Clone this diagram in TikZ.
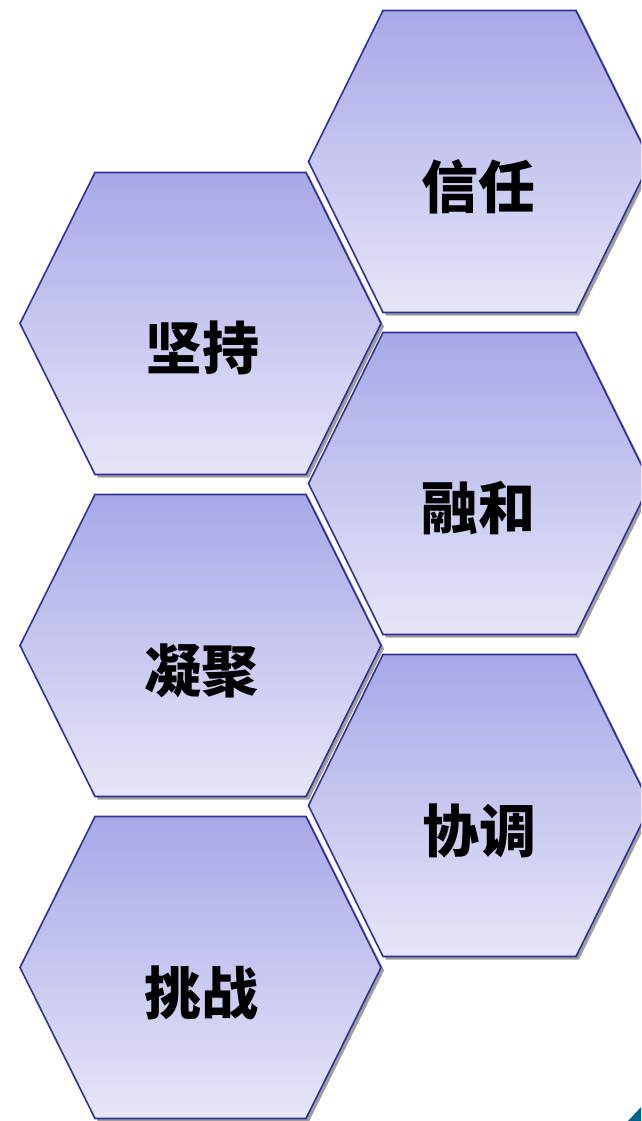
\documentclass[tikz,border=0pt]{standalone}
\usepackage{fontspec}
\newfontfamily\cjk{Noto Sans CJK SC}
\definecolor{hexTop}{RGB}{168,168,232}
\definecolor{hexBot}{RGB}{230,230,248}
\definecolor{hexLine}{RGB}{48,48,150}
\definecolor{cornerTeal}{RGB}{0,100,140}
\tikzset{
  hexface/.style={draw=hexLine, line width=1.6pt, top color=hexTop, bottom color=hexBot},
  hexshadow/.style={fill=black!38, draw=none},
  hexlabel/.style={font=\cjk\bfseries\fontsize{57}{62}\selectfont, text=black, inner sep=0pt}
}
% outlines, left column is a bit wider on top than the right one
\def\hexwide{(-105.5,-151) -- (105.5,-151) -- (180.5,0) -- (105.5,151) -- (-105.5,151) -- (-180.5,0) -- cycle}
\def\hexnarrow{(-96.5,-151) -- (96.5,-151) -- (171,0) -- (96.5,151) -- (-96.5,151) -- (-171,0) -- cycle}
\begin{document}
\begin{tikzpicture}[x=1pt, y=-1pt]
  \useasboundingbox (0,0) rectangle (641,1121);
  \clip (0,0) rectangle (641,1121);
  % right column
  \path[hexshadow, shift={(482.5,164.5)}] \hexnarrow;
  \path[hexface, shift={(479.5,161.5)}] \hexnarrow;
  \node[hexlabel] (trust) at (478.5,186.5) {信任};
  \path[hexshadow, shift={(482.5,486.5)}] \hexnarrow;
  \path[hexface, shift={(479.5,483.5)}] \hexnarrow;
  \node[hexlabel] (blend) at (478.5,508.5) {融和};
  \path[hexshadow, shift={(482.5,808.5)}] \hexnarrow;
  \path[hexface, shift={(479.5,805.5)}] \hexnarrow;
  \node[hexlabel] (coord) at (479.5,830.5) {协调};
  % left column
  \path[hexshadow, shift={(203.5,326.5)}] \hexwide;
  \path[hexface, shift={(200.5,323.5)}] \hexwide;
  \node[hexlabel] (persist) at (202.5,347.5) {坚持};
  \path[hexshadow, shift={(203.5,648.5)}] \hexwide;
  \path[hexface, shift={(200.5,645.5)}] \hexwide;
  \node[hexlabel] (unite) at (201.5,670.5) {凝聚};
  \path[hexshadow, shift={(203.5,970.5)}] \hexwide;
  \path[hexface, shift={(200.5,967.5)}] \hexwide;
  \node[hexlabel] (dare) at (201.5,992.5) {挑战};
  % corner mark
  \fill[cornerTeal] (641,1107) -- (641,1121) -- (628,1121) -- cycle;
\end{tikzpicture}
\end{document}
